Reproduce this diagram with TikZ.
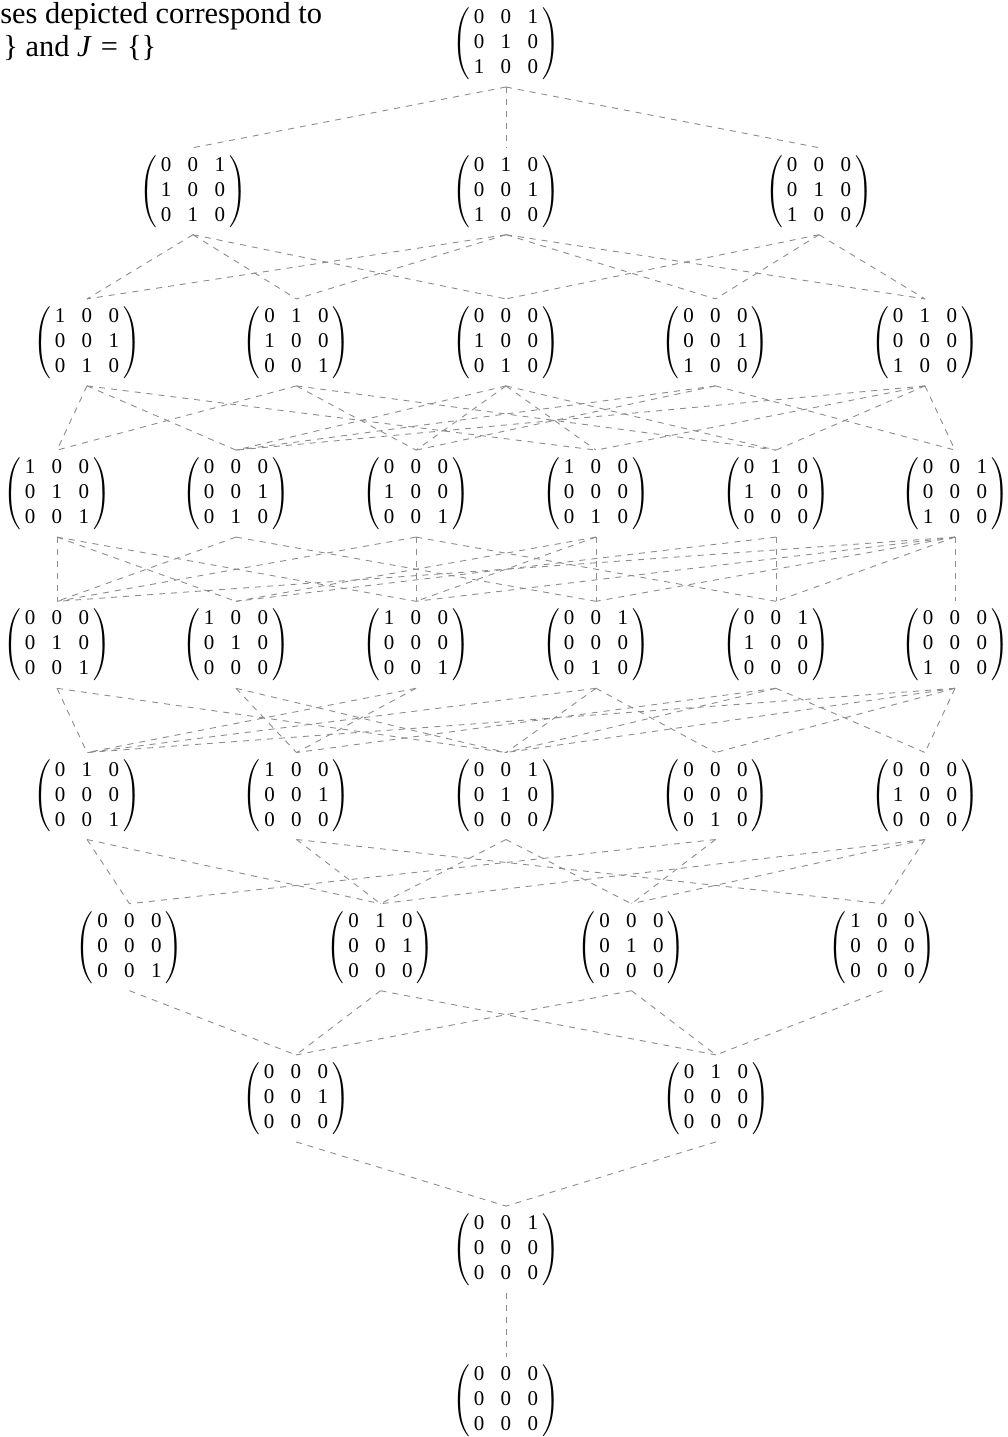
\documentclass[tikz,border=0pt]{standalone}
\usepackage{fontspec}
\setmainfont{Liberation Serif}
\newcommand{\mtx}[9]{$\left(\begin{tabular}{@{\hspace{2pt}}c@{\hspace{8.25pt}}c@{\hspace{8.25pt}}c@{\hspace{2pt}}}#1&#2&#3\\#4&#5&#6\\#7&#8&#9\end{tabular}\right)$}
\tikzset{
  mnode/.style={inner sep=0pt, outer xsep=0pt, outer ysep=3pt, font=\fontsize{10.5}{12.5}\selectfont},
  edge/.style={draw=black!45, dashed, line width=0.45pt},
  titletext/.style={inner sep=0pt, anchor=base west, font=\fontsize{15.2}{17}\selectfont}
}
\begin{document}
\begin{tikzpicture}[x=0.5pt,y=-0.5pt]
\useasboundingbox (0,0) rectangle (1008,1437);
% title (cut at the left edge in the reference)
\node[titletext] (t1) at (0,23) {ses depicted correspond to};
\node[titletext] (t2) at (3,56) {\} and \textit{J}\hspace{0.3em}=\hspace{0.3em}\{\}};
% row 0
\node[mnode] (n0) at (506,43.5) {\mtx 001010100};
% row 1
\node[mnode] (a1) at (193,191.2) {\mtx 001100010};
\node[mnode] (a2) at (506,191.2) {\mtx 010001100};
\node[mnode] (a3) at (819,191.2) {\mtx 000010100};
% row 2
\node[mnode] (b1) at (87,342.4) {\mtx 100001010};
\node[mnode] (b2) at (296.5,342.4) {\mtx 010100001};
\node[mnode] (b3) at (506,342.4) {\mtx 000100010};
\node[mnode] (b4) at (715.5,342.4) {\mtx 000001100};
\node[mnode] (b5) at (925,342.4) {\mtx 010000100};
% row 3
\node[mnode] (c1) at (57,493.6) {\mtx 100010001};
\node[mnode] (c2) at (236,493.6) {\mtx 000001010};
\node[mnode] (c3) at (416,493.6) {\mtx 000100001};
\node[mnode] (c4) at (596,493.6) {\mtx 100000010};
\node[mnode] (c5) at (776,493.6) {\mtx 010100000};
\node[mnode] (c6) at (955,493.6) {\mtx 001000100};
% row 4
\node[mnode] (d1) at (57,644.8) {\mtx 000010001};
\node[mnode] (d2) at (236,644.8) {\mtx 100010000};
\node[mnode] (d3) at (416,644.8) {\mtx 100000001};
\node[mnode] (d4) at (596,644.8) {\mtx 001000010};
\node[mnode] (d5) at (776,644.8) {\mtx 001100000};
\node[mnode] (d6) at (955,644.8) {\mtx 000000100};
% row 5
\node[mnode] (e1) at (87,796) {\mtx 010000001};
\node[mnode] (e2) at (296.5,796) {\mtx 100001000};
\node[mnode] (e3) at (506,796) {\mtx 001010000};
\node[mnode] (e4) at (715.5,796) {\mtx 000000010};
\node[mnode] (e5) at (925,796) {\mtx 000100000};
% row 6
\node[mnode] (f1) at (129.5,947.2) {\mtx 000000001};
\node[mnode] (f2) at (380.5,947.2) {\mtx 010001000};
\node[mnode] (f3) at (631.5,947.2) {\mtx 000010000};
\node[mnode] (f4) at (882.5,947.2) {\mtx 100000000};
% row 7
\node[mnode] (g1) at (296,1098.4) {\mtx 000001000};
\node[mnode] (g2) at (716,1098.4) {\mtx 010000000};
% row 8
\node[mnode] (h1) at (506,1249.6) {\mtx 001000000};
% row 9
\node[mnode] (z) at (506,1400.8) {\mtx 000000000};
% edges
\foreach \u/\l in {n0/a1,n0/a2,n0/a3,
  a1/b1,a1/b2,a1/b3,a2/b1,a2/b2,a2/b4,a2/b5,a3/b3,a3/b4,a3/b5,
  b1/c1,b1/c2,b1/c4,b2/c1,b2/c3,b2/c5,b3/c2,b3/c3,b3/c4,b3/c5,b4/c2,b4/c3,b4/c6,b5/c2,b5/c4,b5/c5,b5/c6,
  c1/d1,c1/d2,c1/d3,c2/d1,c2/d4,c3/d1,c3/d3,c3/d5,c4/d2,c4/d3,c4/d4,c5/d2,c5/d5,c6/d1,c6/d3,c6/d4,c6/d5,c6/d6,
  d1/e1,d1/e3,d2/e2,d2/e3,d3/e1,d3/e2,d4/e1,d4/e3,d4/e4,d5/e2,d5/e3,d5/e5,d6/e1,d6/e3,d6/e4,d6/e5,
  e1/f1,e1/f2,e2/f2,e2/f4,e3/f2,e3/f3,e4/f1,e4/f3,e5/f2,e5/f3,e5/f4,
  f1/g1,f2/g1,f2/g2,f3/g1,f3/g2,f4/g2,
  g1/h1,g2/h1,h1/z}
  \draw[edge] (\u.south) -- (\l.north);
\end{tikzpicture}
\end{document}
